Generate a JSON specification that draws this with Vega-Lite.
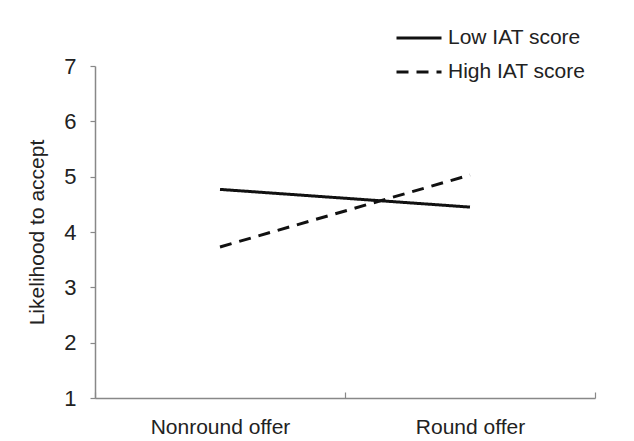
{
  "$schema": "https://vega.github.io/schema/vega-lite/v6.json",
  "width": 500,
  "height": 332,
  "autosize": {"type": "none"},
  "padding": {"left": 95, "top": 66, "right": 39, "bottom": 43},
  "config": {
    "font": "Liberation Sans",
    "view": {"stroke": null},
    "axis": {"grid": false, "domainColor": "#888888", "domainWidth": 1.5, "tickColor": "#888888", "tickWidth": 1.2, "labelColor": "#222222", "titleColor": "#222222", "labelFont": "Liberation Sans", "titleFont": "Liberation Sans", "titleFontWeight": "normal"}
  },
  "data": {
    "values": [
      {"offer": "Nonround offer", "group": "Low IAT score", "likelihood": 4.77},
      {"offer": "Round offer", "group": "Low IAT score", "likelihood": 4.45},
      {"offer": "Nonround offer", "group": "High IAT score", "likelihood": 3.73},
      {"offer": "Round offer", "group": "High IAT score", "likelihood": 5.03}
    ]
  },
  "mark": {"type": "line", "strokeWidth": 3, "color": "#111111"},
  "encoding": {
    "x": {
      "field": "offer", "type": "nominal", "sort": ["Nonround offer", "Round offer"],
      "scale": {"paddingInner": 0, "paddingOuter": 0},
      "axis": {"title": null, "labelAngle": 0, "labelFontSize": 21, "labelPadding": 24, "tickBand": "extent", "tickSize": -6}
    },
    "y": {
      "field": "likelihood", "type": "quantitative",
      "scale": {"domain": [1, 7], "nice": false, "zero": false},
      "axis": {"title": "Likelihood to accept", "titleFontSize": 21, "labelFontSize": 22, "format": "d", "values": [1, 1.5, 2, 2.5, 3, 3.5, 4, 4.5, 5, 5.5, 6, 6.5, 7], "labelExpr": "datum.value % 1 === 0 ? datum.label : ''", "tickSize": 5, "labelPadding": 14, "titlePadding": 16}
    },
    "strokeDash": {
      "field": "group", "type": "nominal",
      "scale": {"domain": ["Low IAT score", "High IAT score"], "range": [[1, 0], [12, 8]]},
      "legend": {"title": null, "orient": "none", "legendX": 300, "legendY": -52, "symbolType": "stroke", "symbolSize": 2025, "symbolStrokeWidth": 3, "symbolStrokeColor": "#111111", "labelFontSize": 21, "labelColor": "#222222", "labelOffset": 5, "rowPadding": -13}
    }
  }
}
